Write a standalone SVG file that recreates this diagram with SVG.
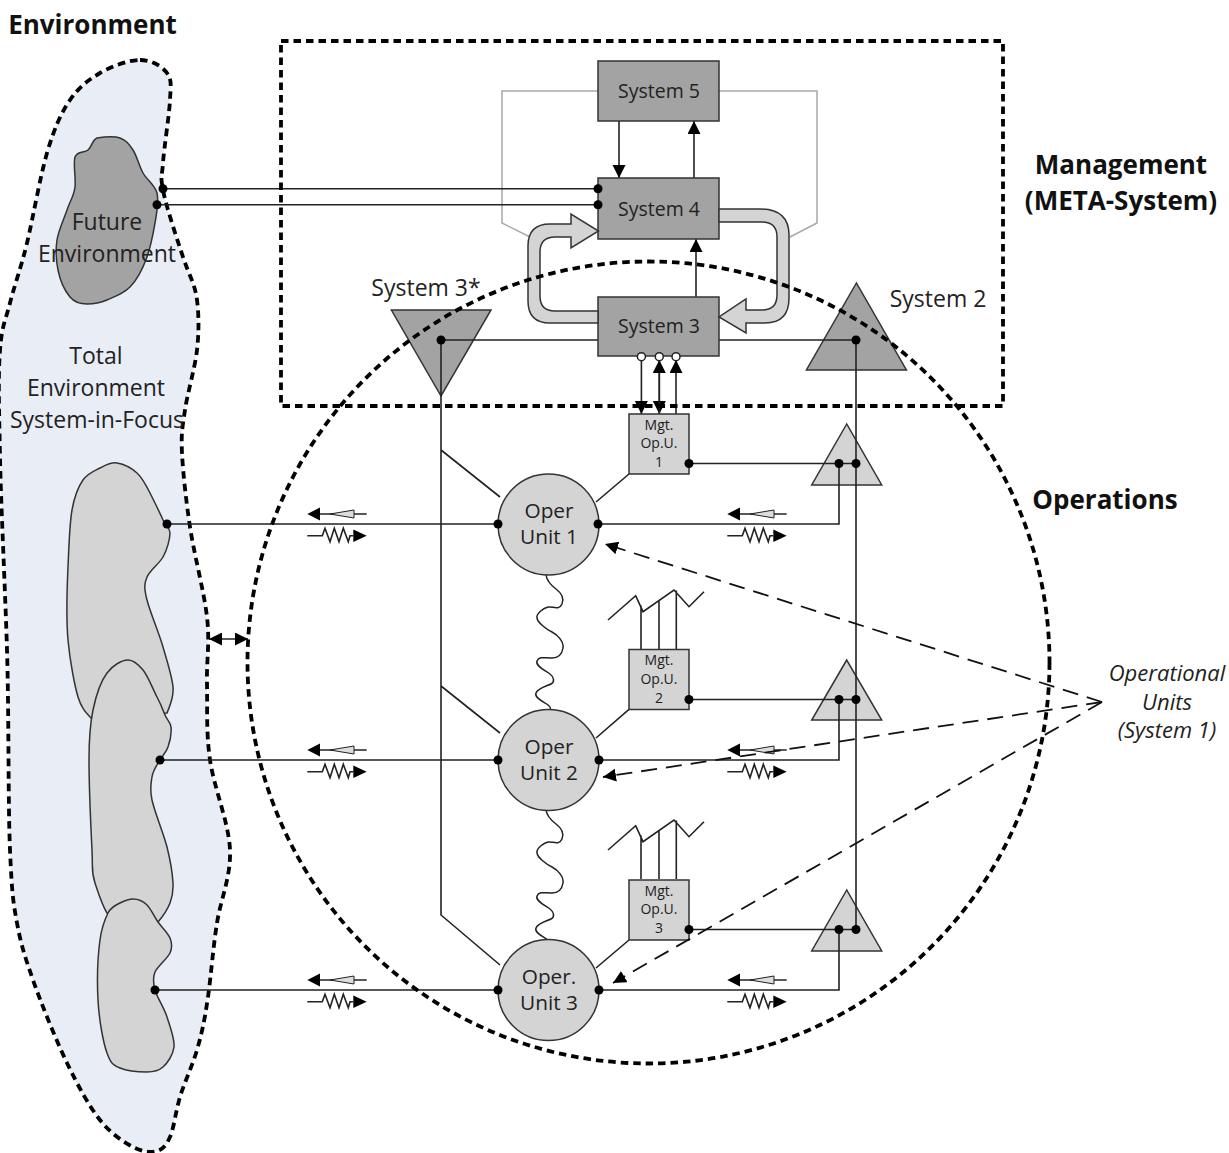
<svg xmlns="http://www.w3.org/2000/svg" xmlns:xlink="http://www.w3.org/1999/xlink" width="1229" height="1153" viewBox="0 0 1229 1153">
<style>
text{font-family:"Open Sans","Noto Sans","Liberation Sans",sans-serif;fill:#222;text-anchor:middle}
.t{font-size:23px}.b{font-size:26px;font-weight:700;fill:#111}.s{font-size:19.5px}.m{font-size:14px}.i{font-size:22px;font-style:italic}.o{font-size:20.8px}
.dark{fill:#a3a3a3;stroke:#333;stroke-width:1.5}
.light{fill:#d4d4d4;stroke:#333;stroke-width:1.5}
.blob{fill:#d4d4d4;stroke:#333;stroke-width:1.5}
.ln{fill:none;stroke:#222;stroke-width:1.6}
.g{fill:none;stroke:#a8a8a8;stroke-width:1.5}
.dot{fill:none;stroke:#000;stroke-width:3.8;stroke-dasharray:7.500 5}
.dash{fill:none;stroke:#111;stroke-width:1.8;stroke-dasharray:16 9}
.wave{fill:none;stroke:#222;stroke-width:1.5}
.d{fill:#000}
</style>
<defs>
<marker id="ah" markerWidth="15" markerHeight="15" refX="13" refY="6.500" orient="auto" markerUnits="userSpaceOnUse"><path d="M0 0L13 6.500L0 13Z" fill="#000"/></marker>
<marker id="ahb" markerWidth="15" markerHeight="15" refX="0" refY="6.500" orient="auto" markerUnits="userSpaceOnUse"><path d="M13 0L0 6.500L13 13Z" fill="#000"/></marker>
<g id="sig">
<path d="M307.300 514L320 507.500V520.500Z" fill="#000"/>
<path d="M320 514H366.700" class="ln"/>
<path d="M330 514L354 510V518Z" fill="#ddd" stroke="#222"/>
<path d="M307.300 535.700H322.300L325 528.300L330 541.700L334.300 528.300L339 541.700L343.300 528.300L348.300 541.700L350 535.700H353.300" class="ln"/>
<path d="M353.300 529.500V542L366.700 535.700Z" fill="#000"/>
</g>
<path id="saw" d="M608 620L635.700 595.700L643 611.700L674 590L689 606.700L704 591.700M641 649V605.500M659 649V601M676.300 649V590.500" class="ln"/>
<path id="wave" class="wave" d="M546 575C547 582 552 586 556 589S565 597 562 604S552 606 548 607S536 613 537 618S546 629 552 632S564 642 563 648S559 658 552 658S539 656 537 661S546 671 550 674S555 682 551 684S538 688 536 693S544 702 548 705S550 708 550 712"/>
</defs>
<rect width="1229" height="1153" fill="#fff"/>

<g id="environment">
<path d="M140 60C151 60 162 66 167 73S170.700 85 170 100S164 148 163 163S160 174 163 190S177 239 183 257S195 284 197 300S199 332 197 350S187.500 393 185 410S181 433 182 453S186 500 190 527S204 591 207 617S206.500 659 207 683S206 732 210 760S229 823 230 850S221 898 217 923S211 976 208 997S202 1033 197 1050S184.500 1082 180 1097S174 1128 170 1137S163 1149 157 1151S142.500 1152 133 1147S111 1134 100 1120S78 1086 67 1063S41 1003 33 980S21 945 17 923S12 895 10 850S9 715 7 650S1 507 0 457S-2 376 0 350S5.500 321 10 303S21 268 27 243S40 177 47 153S61 113 70 100S88 80 100 73S129 60 140 60Z" class="dot" style="fill:#e8edf6"/>
</g>
<g id="future-environment">
<path class="blob" style="fill:#a3a3a3" d="M97 138C104 137 114 136 120 138S129 144 133 150S139 166 143 173S155 185 157 193S157 212 155 223S151 246 147 257S137 280 130 287S114 297 107 300S93 304 87 304S75 303 70 297S60 280 58 270S55.500 250 57 240S64 219 67 210S74 196 75 187S73 163 75 157S84 153 88 150S92 140 97 138Z"/>
</g>
<g id="env-unit-1">
<path class="blob" d="M117 463C123 464 131.500 468 137 473S146 485 150 493S160 513 163 520S170 527 170 533S167 550 163 557S150 570 147 577S144 588 147 600S159 633 163 647S172 676 173 687S170 705 167 713L92 719C85 712 81 707 78 697S70 662 68 640S67 589 68 567S69.500 524 72 510S78 487 83 480S94 471 100 468S111 462 117 463Z"/>
</g>
<g id="env-unit-2">
<path class="blob" d="M128 660C133 660 138 664 143 670S153 689.500 157 697S163 710 165 715S170.500 722 171 727S170 741.500 168 747S163 755 160 760S153 770 152 777S149.500 788 152 800S163.500 833 167 847S172.500 874 173 883S172.500 896.500 170 903S164 915 158 922L107 913C102 905 99 895 95 883S93 870 92 850S89 783 89 760S90 724.500 93 710S101 681 107 673S122 660 128 660Z"/>
</g>
<g id="env-unit-3">
<path class="blob" d="M133 899C138 899 143 901 147 905S154 916.500 158 922S168 933 170 938S172.500 947.500 170 953S157.500 966 155 972S153 982.500 155 990S164 1007.500 167 1017S175 1039 174 1047S167.500 1063 163 1067S154 1072 147 1072S127 1071 120 1068S111 1064 107 1053S99 1019 98 1000S98 954.500 100 940S105 919 108 913S116 905 120 903S128.500 899 133 899Z"/>
</g>

<g id="system-3-star"><path class="dark" d="M391.400 310H491L441 396Z"/><text class="t" x="426" y="296">System 3*</text></g>
<g id="system-2"><path class="dark" d="M856.400 283L806.400 370H906.400Z"/><text class="t" x="938" y="307">System 2</text></g>
<g id="amp-1"><path class="light" d="M846.700 424L811.700 485H881.700Z"/></g>
<g id="amp-2"><path class="light" d="M846.700 660L811.700 720H881.700Z"/></g>
<g id="amp-3"><path class="light" d="M846.700 890L811.700 951H881.700Z"/></g>

<g id="connectors">
<path class="g" d="M598 91H502V223L530 237M719 91H817V223L790 237"/>
<path class="ln" d="M163 188.700H598M157 204.700H598"/>
<path class="ln" d="M619 121V178" marker-end="url(#ah)"/>
<path class="ln" d="M694 178V121" marker-end="url(#ah)"/>
<path class="ln" d="M696 297V239" marker-end="url(#ah)"/>
<path class="ln" d="M441 340H598M719 340H856V930M441 340V915L500 965M441 450L500 497M441 686L500 733"/>
<path class="ln" d="M641.400 360V414" marker-end="url(#ah)"/>
<path class="ln" d="M659.300 360V414" marker-end="url(#ah)"/>
<path class="ln" d="M659.300 414V360" marker-end="url(#ah)"/>
<path class="ln" d="M676 414V360" marker-end="url(#ah)"/>
<path class="ln" d="M167 524H498M160 760H498M155 990H498"/>
<path class="ln" d="M689 463.500H856M689 699.500H856M689 929.500H856"/>
<path class="ln" d="M599 524H839V463.500M599 760H839V699.500M599 990H839V929.500"/>
<path class="ln" d="M629 474L596 502M629 709.300L596 738M629 940L596 968"/>
<path class="ln" d="M209 639H248" marker-start="url(#ahb)" marker-end="url(#ah)"/>
<use xlink:href="#saw"/><use xlink:href="#saw" y="230"/>
<use xlink:href="#sig"/><use xlink:href="#sig" y="236"/><use xlink:href="#sig" y="466"/>
<use xlink:href="#sig" x="420"/><use xlink:href="#sig" x="420" y="236"/><use xlink:href="#sig" x="420" y="466"/>
<use xlink:href="#wave"/><use xlink:href="#wave" y="235"/>
</g>

<g id="system-5"><rect class="dark" x="598" y="61" width="121" height="60"/><text class="s" x="659" y="97.500">System 5</text></g>
<g id="system-4"><rect class="dark" x="598" y="178" width="121" height="61"/><text class="s" x="659" y="215.500">System 4</text></g>
<g id="system-3"><rect class="dark" x="598" y="297" width="121" height="59"/><text class="s" x="659" y="332.500">System 3</text></g>

<g id="loops">
<path class="light" d="M598 311H555Q540 311 540 296V252Q540 237 555 237H571V248L598.500 231L571 214V224H550Q528 224 528 246V301Q528 323 550 323H598Z"/>
<path class="light" d="M719 209H760Q789 209 789 235V298Q789 323 765 323H746V333L719 317L746 299V310H762Q777 310 777 295V237Q777 222 762 222H719Z"/>
</g>

<g id="mgt-1"><rect class="light" x="629" y="414" width="60" height="60"/><text class="m" x="659" y="430">Mgt.</text><text class="m" x="659" y="448">Op.U.</text><text class="m" x="659" y="467">1</text></g>
<g id="mgt-2"><rect class="light" x="629" y="649.500" width="60" height="60"/><text class="m" x="659" y="665">Mgt.</text><text class="m" x="659" y="684">Op.U.</text><text class="m" x="659" y="703">2</text></g>
<g id="mgt-3"><rect class="light" x="629" y="880" width="60" height="60"/><text class="m" x="659" y="896">Mgt.</text><text class="m" x="659" y="914">Op.U.</text><text class="m" x="659" y="933">3</text></g>

<g id="oper-1"><circle class="light" cx="548.500" cy="524.500" r="50.500"/><text class="o" x="549" y="518">Oper</text><text class="o" x="549" y="544">Unit 1</text></g>
<g id="oper-2"><circle class="light" cx="548.500" cy="760" r="50.500"/><text class="o" x="549" y="754">Oper</text><text class="o" x="549" y="780">Unit 2</text></g>
<g id="oper-3"><circle class="light" cx="548.500" cy="990" r="50.500"/><text class="o" x="549" y="984">Oper.</text><text class="o" x="549" y="1010">Unit 3</text></g>

<g id="management"><rect x="281" y="41" width="722" height="365" class="dot"/></g>
<g id="operations"><circle class="dot" cx="648.500" cy="662.500" r="401"/></g>

<g id="dashed">
<path class="dash" d="M1102 702L605 544" marker-end="url(#ah)"/>
<path class="dash" d="M1102 702L603 777" marker-end="url(#ah)"/>
<path class="dash" d="M1102 702L613 983" marker-end="url(#ah)"/>
</g>

<g id="dots">
<circle class="d" cx="163" cy="188.700" r="4.500"/><circle class="d" cx="157" cy="204.700" r="4.500"/>
<circle class="d" cx="598" cy="188.700" r="4.500"/><circle class="d" cx="598" cy="204.700" r="4.500"/>
<circle class="d" cx="441" cy="340" r="4.500"/><circle class="d" cx="856" cy="340" r="4.500"/>
<circle cx="641.400" cy="356.700" r="4" fill="#fff" stroke="#222" stroke-width="1.500"/><circle cx="659.300" cy="356.700" r="4" fill="#fff" stroke="#222" stroke-width="1.500"/><circle cx="676" cy="356.700" r="4" fill="#fff" stroke="#222" stroke-width="1.500"/>
<circle class="d" cx="689" cy="463.500" r="4.500"/><circle class="d" cx="839" cy="463.500" r="4.500"/><circle class="d" cx="856" cy="463.500" r="4.500"/>
<circle class="d" cx="689" cy="699.500" r="4.500"/><circle class="d" cx="839" cy="699.500" r="4.500"/><circle class="d" cx="856" cy="699.500" r="4.500"/>
<circle class="d" cx="689" cy="929.500" r="4.500"/><circle class="d" cx="839" cy="929.500" r="4.500"/><circle class="d" cx="856" cy="929.500" r="4.500"/>
<circle class="d" cx="167" cy="524" r="4.500"/><circle class="d" cx="160" cy="760" r="4.500"/><circle class="d" cx="155" cy="990" r="4.500"/>
<circle class="d" cx="498" cy="524" r="4.500"/><circle class="d" cx="498" cy="760" r="4.500"/><circle class="d" cx="498" cy="990" r="4.500"/>
<circle class="d" cx="598" cy="524" r="4.500"/><circle class="d" cx="599" cy="760" r="4.500"/><circle class="d" cx="599" cy="990" r="4.500"/>
</g>

<g id="labels">
<text class="b" x="92.500" y="34">Environment</text>
<text class="t" x="107" y="230">Future</text>
<text class="t" x="107" y="262">Environment</text>
<text class="t" x="96" y="364">Total</text>
<text class="t" x="96" y="396">Environment</text>
<text class="t" x="97" y="428">System-in-Focus</text>
<text class="b" x="1121" y="174">Management</text>
<text class="b" x="1121" y="210">(META-System)</text>
<text class="b" x="1105" y="509">Operations</text>
<text class="i" x="1167" y="681">Operational</text>
<text class="i" x="1167" y="710">Units</text>
<text class="i" x="1167" y="738">(System 1)</text>
</g>
</svg>
